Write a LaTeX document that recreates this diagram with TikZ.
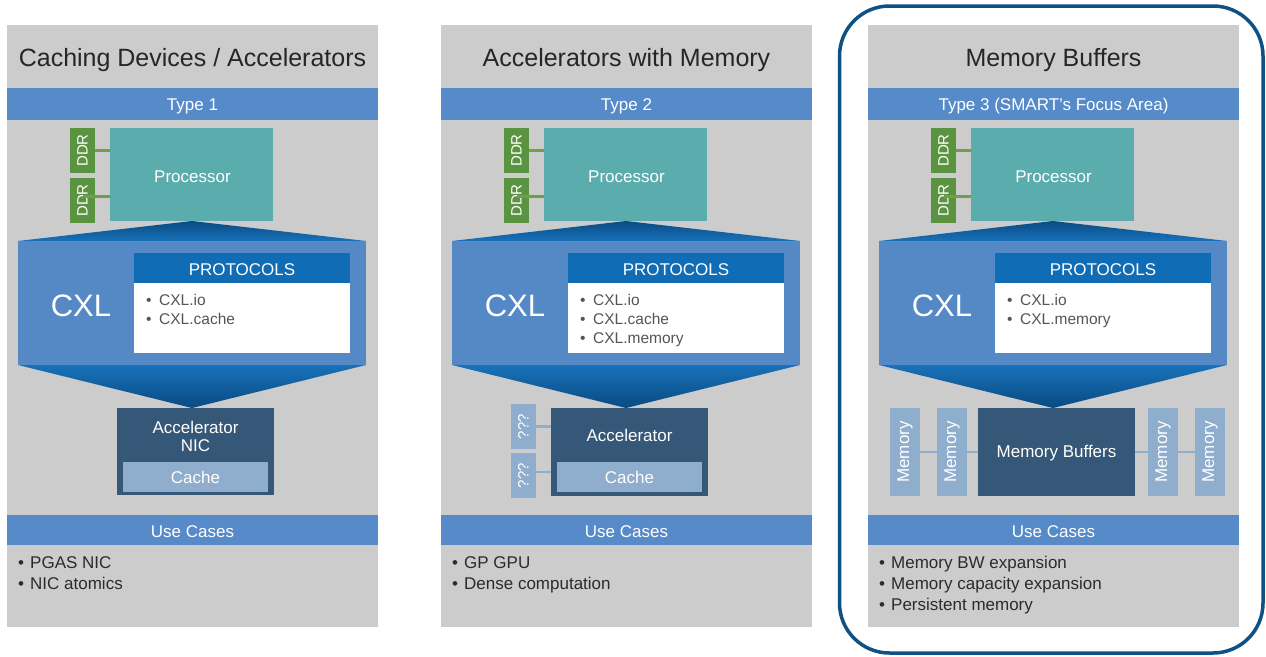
\documentclass[tikz,border=0pt]{standalone}
\usepackage{fontspec}
\setmainfont{Liberation Sans}
\definecolor{panelgray}{HTML}{CBCCCB}
\definecolor{barblue}{HTML}{568AC8}
\definecolor{procteal}{HTML}{5BACAD}
\definecolor{ddrgreen}{HTML}{5B9441}
\definecolor{ddrline}{HTML}{6E9E50}
\definecolor{cxlblue}{HTML}{5589C6}
\definecolor{triLight}{HTML}{1872BA}
\definecolor{triDark}{HTML}{0A4A82}
\definecolor{protohead}{HTML}{106CB5}
\definecolor{accdark}{HTML}{355878}
\definecolor{lightbox}{HTML}{8FADCC}
\definecolor{txtdark}{HTML}{262626}
\definecolor{bulgray}{HTML}{555555}
\definecolor{usetxt}{HTML}{2B2B2B}
\definecolor{framecol}{HTML}{0D5185}
\newcommand\bl[2]{\makebox[#1][l]{•}#2}
\tikzset{
  blk/.style={draw=none, inner sep=0pt, outer sep=0pt},
  txt/.style={font=\fontsize{#1}{18}\selectfont, inner sep=0pt},
  greenlink/.style={draw=ddrline, line width=2.5pt},
  bluelink/.style={draw=lightbox, line width=2.5pt},
  rotbox/.style={blk, minimum width=45pt, minimum height=25pt, rotate=90, txt=15, text=white},
}
\newcommand\panelcommon[4]{%
\begin{scope}[xshift=#2pt]
  \node[blk, fill=panelgray, minimum width=371pt, minimum height=602pt] (#1gray) at (185.5,326) {};
  \node[anchor=base, txt=25, text=txtdark] (#1title) at (185.5,66) {#3};
  \node[blk, fill=barblue, minimum width=371pt, minimum height=32pt] (#1typebar) at (185.5,104) {};
  \node[anchor=base, txt=17, text=white] (#1typetxt) at (185.5,110) {#4};
  \node[blk, fill=procteal, minimum width=163pt, minimum height=93pt] (#1proc) at (184.5,174.5) {};
  \node[anchor=base, txt=17, text=white] (#1proctxt) at (185.5,182) {Processor};
  \node[rotbox, fill=ddrgreen] (#1ddra) at (75.5,150.5) {DDR};
  \node[rotbox, fill=ddrgreen] (#1ddrb) at (75.5,200.5) {DDR};
  \draw[greenlink] (#1ddra) -- (#1ddra -| #1proc.west);
  \draw[greenlink] (#1ddrb.east |- 0,196.5) -- (#1proc.west |- 0,196.5);
  \coordinate (#1tl) at (11,241);
  \coordinate (#1tp) at (185,221);
  \coordinate (#1tr) at (359,241);
  \coordinate (#1bl) at (11,365);
  \coordinate (#1bp) at (185,408);
  \coordinate (#1br) at (359,365);
  \shade[top color=triDark, bottom color=triLight] (#1tl) -- (#1tp) -- (#1tr) -- cycle;
  \fill[cxlblue] (#1tl) rectangle (#1br);
  \shade[top color=triLight, bottom color=triDark] (#1bl) -- (#1br) -- (#1bp) -- cycle;
  \node[anchor=base, txt=31, text=white] (#1cxl) at (74,316) {CXL};
  \node[blk, fill=protohead, minimum width=216pt, minimum height=30pt] (#1phead) at (235,268) {};
  \node[anchor=base, txt=17, text=white] (#1pheadtxt) at (235,275) {PROTOCOLS};
  \node[blk, fill=white, minimum width=216pt, minimum height=70pt] (#1pbody) at (235,318) {};
  \node[blk, fill=barblue, minimum width=371pt, minimum height=30pt] (#1usebar) at (185.5,530) {};
  \node[anchor=base, txt=17, text=white] (#1usetxt) at (185.5,537) {Use Cases};
\end{scope}}
\begin{document}
\begin{tikzpicture}[x=1pt, y=-1pt]
\useasboundingbox (0,0) rectangle (1266,656);
\fill[white] (0,0) rectangle (1266,656);

% ---------- panel 1 ----------
\panelcommon{pa}{7}{Caching Devices / Accelerators}{Type 1}
\begin{scope}[xshift=7pt]
  \node[anchor=base west, txt=15.5, text=bulgray] (papa) at (139,305) {\bl{13pt}{CXL.io}};
  \node[anchor=base west, txt=15.5, text=bulgray] (papb) at (139,324) {\bl{13pt}{CXL.cache}};
  \node[blk, fill=accdark, minimum width=157pt, minimum height=87pt] (paacc) at (188.5,451.5) {};
  \node[txt=17, text=white, align=center] (paacctxt) at (188.5,436) {Accelerator\\NIC};
  \node[blk, fill=lightbox, minimum width=145pt, minimum height=30pt] (pacache) at (188.5,477) {};
  \node[anchor=base, txt=17, text=white] (pacachetxt) at (188.5,483) {Cache};
  \node[anchor=base west, txt=17, text=usetxt] (paua) at (11,568) {\bl{12pt}{PGAS NIC}};
  \node[anchor=base west, txt=17, text=usetxt] (paub) at (11,589) {\bl{12pt}{NIC atomics}};
\end{scope}

% ---------- panel 2 ----------
\panelcommon{pb}{441}{Accelerators with Memory}{Type 2}
\begin{scope}[xshift=441pt]
  \node[anchor=base west, txt=15.5, text=bulgray] (pbpa) at (139,305) {\bl{13pt}{CXL.io}};
  \node[anchor=base west, txt=15.5, text=bulgray] (pbpb) at (139,324) {\bl{13pt}{CXL.cache}};
  \node[anchor=base west, txt=15.5, text=bulgray] (pbpc) at (139,343) {\bl{13pt}{CXL.memory}};
  \node[blk, fill=accdark, minimum width=157pt, minimum height=88pt] (pbacc) at (188.5,452) {};
  \node[anchor=base, txt=17, text=white] (pbacctxt) at (188.5,441) {Accelerator};
  \node[blk, fill=lightbox, minimum width=145pt, minimum height=30pt] (pbcache) at (188.5,477) {};
  \node[anchor=base, txt=17, text=white] (pbcachetxt) at (188.5,483) {Cache};
  \node[rotbox, fill=lightbox] (pbqa) at (82.5,426.5) {???};
  \node[rotbox, fill=lightbox] (pbqb) at (82.5,475.5) {???};
  \draw[bluelink] (pbqa) -- (pbqa -| pbacc.west);
  \draw[bluelink] (pbqb.east |- 0,472) -- (pbacc.west |- 0,472);
  \node[anchor=base west, txt=17, text=usetxt] (pbua) at (11,568) {\bl{12pt}{GP GPU}};
  \node[anchor=base west, txt=17, text=usetxt] (pbub) at (11,589) {\bl{12pt}{Dense computation}};
\end{scope}

% ---------- panel 3 ----------
\panelcommon{pc}{868}{Memory Buffers}{Type 3 (SMART’s Focus Area)}
\begin{scope}[xshift=868pt]
  \node[anchor=base west, txt=15.5, text=bulgray] (pcpa) at (139,305) {\bl{13pt}{CXL.io}};
  \node[anchor=base west, txt=15.5, text=bulgray] (pcpb) at (139,324) {\bl{13pt}{CXL.memory}};
  \node[blk, fill=accdark, minimum width=157pt, minimum height=88pt] (pcmb) at (188.5,452) {};
  \node[anchor=base, txt=17, text=white] (pcmbtxt) at (188.5,457) {Memory Buffers};
  \node[rotbox, fill=lightbox, minimum width=88pt, minimum height=30pt, txt=17] (pcma) at (37,452) {Memory};
  \node[rotbox, fill=lightbox, minimum width=88pt, minimum height=30pt, txt=17] (pcmb2) at (84,452) {Memory};
  \node[rotbox, fill=lightbox, minimum width=88pt, minimum height=30pt, txt=17] (pcmc) at (295,452) {Memory};
  \node[rotbox, fill=lightbox, minimum width=88pt, minimum height=30pt, txt=17] (pcmd) at (342,452) {Memory};
  \draw[bluelink] (pcma) -- (pcmb2);
  \draw[bluelink] (pcmb2) -- (pcmb);
  \draw[bluelink] (pcmb) -- (pcmc);
  \draw[bluelink] (pcmc) -- (pcmd);
  \node[anchor=base west, txt=17, text=usetxt] (pcua) at (11,568) {\bl{12pt}{Memory BW expansion}};
  \node[anchor=base west, txt=17, text=usetxt] (pcub) at (11,589) {\bl{12pt}{Memory capacity expansion}};
  \node[anchor=base west, txt=17, text=usetxt] (pcuc) at (11,610) {\bl{12pt}{Persistent memory}};
\end{scope}
\draw[framecol, line width=3.5pt, rounded corners=50pt] (839.5,6) rectangle (1263,653);
\end{tikzpicture}
\end{document}
